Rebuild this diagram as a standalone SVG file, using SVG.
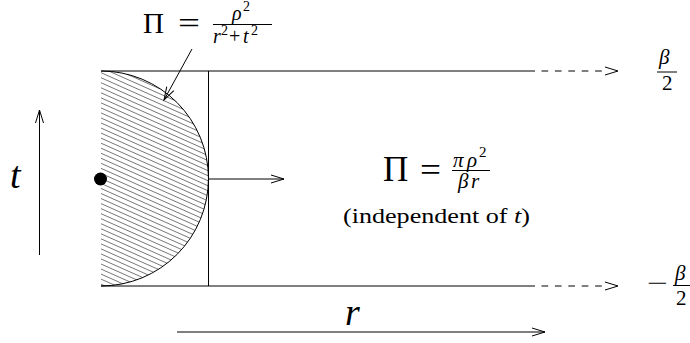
<svg xmlns="http://www.w3.org/2000/svg" width="690" height="343" viewBox="0 0 690 343">
<style>
.ln{fill:none;stroke:#000;stroke-width:1}
.dash{fill:none;stroke:#000;stroke-width:1}
.tx{font-family:"Liberation Serif","DejaVu Serif",serif;fill:#000}
.it{font-style:italic}
</style>
<defs>
<marker id="ah" viewBox="-14 -6 16 12" refX="0" refY="0" markerWidth="16" markerHeight="12" markerUnits="userSpaceOnUse" orient="auto">
<path d="M-13,-4 L0,0 L-13,4" fill="none" stroke="#000" stroke-width="1" stroke-dasharray="none"/>
</marker>
<pattern id="hatch" patternUnits="userSpaceOnUse" width="12" height="4.6" patternTransform="rotate(24)">
<line x1="0" y1="2.3" x2="12" y2="2.3" stroke="#444" stroke-width="0.7"/>
</pattern>
</defs>
<rect width="690" height="343" fill="#fff"/>

<g id="region">
<path d="M101,71 A107.5,107.5 0 0 1 101,286 Z" fill="url(#hatch)" stroke="none"/>
<path class="ln" d="M101,71 A107.5,107.5 0 0 1 101,286"/>
<line class="ln" x1="208.5" y1="71" x2="208.5" y2="286"/>
<circle cx="100.5" cy="179" r="6.5" fill="#000"/>
</g>

<g id="connectors">
<line class="ln" x1="101" y1="71" x2="535" y2="71"/>
<path class="dash" d="M541.5,71 H618" stroke-dasharray="6.7 6.7 6.7 6.7 6.7 6.7 6.7 6.7 6.7 16.3" marker-end="url(#ah)"/>
<line class="ln" x1="101" y1="286" x2="535" y2="286"/>
<path class="dash" d="M541.5,286 H618" stroke-dasharray="6.7 6.7 6.7 6.7 6.7 6.7 6.7 6.7 6.7 16.3" marker-end="url(#ah)"/>
<path class="ln" d="M208.5,179 H284" marker-end="url(#ah)"/>
<path class="ln" d="M192,49 L164,100" marker-end="url(#ah)"/>
<path class="ln" d="M39.5,255 V110" marker-end="url(#ah)"/>
<path class="ln" d="M177,332 H545" marker-end="url(#ah)"/>
</g>

<g id="label-top">
<text class="tx" x="143" y="33" font-size="29">Π</text>
<text class="tx" x="178" y="33" font-size="30" textLength="22" lengthAdjust="spacingAndGlyphs">=</text>
<text class="tx it" x="232" y="19.5" font-size="20">ρ</text>
<text class="tx" x="243" y="11" font-size="14">2</text>
<line class="ln" x1="213" y1="24.5" x2="272" y2="24.5"/>
<text class="tx it" x="213" y="43" font-size="20">r</text>
<text class="tx" x="221" y="35" font-size="14">2</text>
<text class="tx" x="229" y="43" font-size="20">+</text>
<text class="tx it" x="243" y="43" font-size="20">t</text>
<text class="tx" x="251" y="35" font-size="14">2</text>
</g>

<g id="label-middle">
<text class="tx" x="383" y="181" font-size="35">Π</text>
<text class="tx" x="420" y="181" font-size="34" textLength="21" lengthAdjust="spacingAndGlyphs">=</text>
<text class="tx it" x="453" y="166.5" font-size="21">π</text>
<text class="tx it" x="467" y="166.5" font-size="21">ρ</text>
<text class="tx" x="479" y="157" font-size="15">2</text>
<line class="ln" x1="452" y1="170.5" x2="490" y2="170.5"/>
<text class="tx it" x="458" y="188" font-size="21">β</text>
<text class="tx it" x="471" y="188" font-size="21">r</text>
<text class="tx" x="343" y="223" font-size="21" textLength="187" lengthAdjust="spacingAndGlyphs">(independent of <tspan class="it">t</tspan>)</text>
</g>

<g id="label-beta-top">
<text class="tx it" x="659" y="64" font-size="21">β</text>
<line class="ln" x1="657" y1="72" x2="677" y2="72"/>
<text class="tx" x="662" y="90" font-size="21">2</text>
</g>

<g id="label-beta-bottom">
<text class="tx" x="647" y="291" font-size="24" textLength="21" lengthAdjust="spacingAndGlyphs">−</text>
<text class="tx it" x="675" y="280" font-size="21">β</text>
<line class="ln" x1="673" y1="285.5" x2="690" y2="285.5"/>
<text class="tx" x="676" y="305" font-size="21">2</text>
</g>

<g id="label-t">
<text class="tx it" x="10" y="188" font-size="38">t</text>
</g>
<g id="label-r">
<text class="tx it" x="345" y="325" font-size="38">r</text>
</g>
</svg>
